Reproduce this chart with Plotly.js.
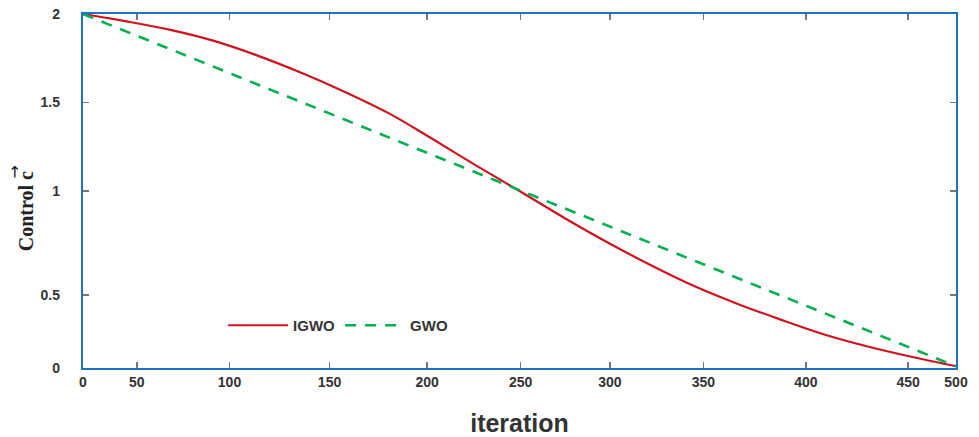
<!DOCTYPE html>
<html>
<head>
<meta charset="utf-8">
<script src="https://cdn.plot.ly/plotly-3.0.1.min.js"></script>
<style>html,body{margin:0;padding:0;background:#fff;}#chart{width:979px;height:437px;}</style>
</head>
<body>
<div id="chart"></div>
<script>
// Data (x in the plot's linear scale, 0..500)
const iterations = [0, 25, 50, 75, 100, 125, 150, 175, 200, 225, 250, 275, 300, 325, 350, 375, 400, 425, 450, 475, 500];
const igwo = [2.0, 1.958, 1.910, 1.848, 1.765, 1.668, 1.560, 1.440, 1.295, 1.145, 1.000, 0.852, 0.712, 0.582, 0.463, 0.362, 0.272, 0.188, 0.120, 0.062, 0.01];
const gwoX = [0, 500];
const gwo = [2.0, 0.01];

// Tick labels as printed in the reference, and where they sit on the axis
const xTickVals = [0, 30.8, 83.9, 141.2, 197.1, 250.6, 301.8, 355.3, 414.0, 472.6, 500];
const xTickText = ['0', '50', '100', '150', '200', '250', '300', '350', '400', '450', '500'];
const yTickVals = [0, 0.413, 1.0, 1.5, 2.0];
const yTickText = ['0', '0.5', '1', '1.5', '2'];

const seriesNames = ['IGWO', 'GWO'];

const traces = [
  {
    x: iterations, y: igwo, name: seriesNames[0], type: 'scatter', mode: 'lines',
    line: {color: '#cc141e', width: 2.2, shape: 'spline', smoothing: 1}
  },
  {
    x: gwoX, y: gwo, name: seriesNames[1], type: 'scatter', mode: 'lines',
    line: {color: '#00b050', width: 2.6, dash: '11px,9px'}
  }
];

const axisCommon = {
  showline: true, linecolor: '#1a72c9', linewidth: 2.2, mirror: 'ticks',
  ticks: 'inside', ticklen: 6, tickwidth: 1.5, tickcolor: '#777777',
  showgrid: false, zeroline: false, tickmode: 'array',
  tickfont: {family: 'Liberation Sans, Arial, sans-serif', size: 14, color: '#333333', weight: 'bold'}
};

const layout = {
  width: 979, height: 437,
  margin: {l: 83, r: 23, t: 14, b: 69},
  paper_bgcolor: '#ffffff', plot_bgcolor: '#ffffff',
  showlegend: true,
  legend: {
    orientation: 'h', x: 0.1605, y: 0.12, xanchor: 'left', yanchor: 'middle',
    bgcolor: 'rgba(0,0,0,0)', itemwidth: 60,
    font: {family: 'Liberation Sans, Arial, sans-serif', size: 15, color: '#333333', weight: 'bold'}
  },
  xaxis: Object.assign({}, axisCommon, {
    range: [0, 500], tickvals: xTickVals, ticktext: xTickText,
    title: {text: 'iteration', standoff: 27,
      font: {family: 'Liberation Sans, Arial, sans-serif', size: 25, color: '#333333', weight: 'bold'}}
  }),
  yaxis: Object.assign({}, axisCommon, {
    range: [0, 2], tickvals: yTickVals, ticktext: yTickText, ticklabelstandoff: 18
  }),
  annotations: [
    {
      xref: 'paper', yref: 'paper', x: -0.066, y: 0.444, xanchor: 'center', yanchor: 'middle',
      textangle: -90, showarrow: false,
      text: 'Control c',
      font: {family: 'Liberation Serif, Times New Roman, serif', size: 20, color: '#222222', weight: 'bold'}
    },
    {
      xref: 'paper', yref: 'paper', x: -0.078, y: 0.555, xanchor: 'center', yanchor: 'middle',
      textangle: -90, showarrow: false,
      text: '\u2192',
      font: {family: 'DejaVu Sans, sans-serif', size: 16, color: '#111111'}
    }
  ]
};

Plotly.newPlot('chart', traces, layout, {displayModeBar: false, staticPlot: true});
</script>
</body>
</html>
